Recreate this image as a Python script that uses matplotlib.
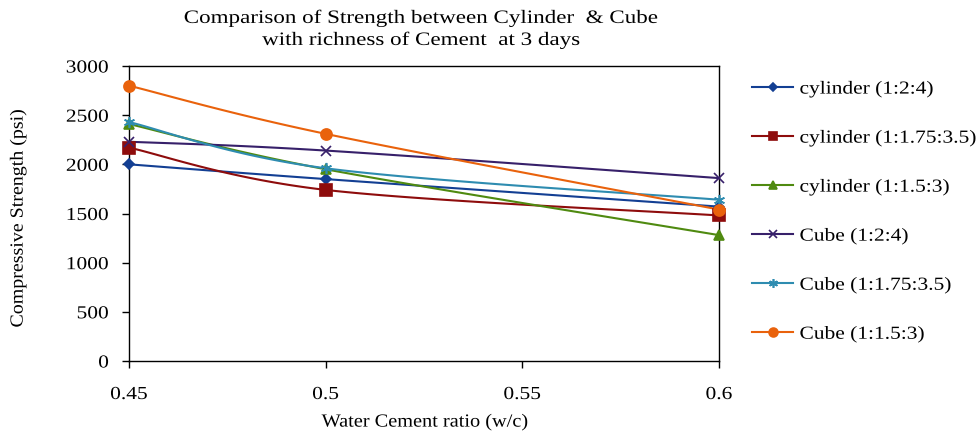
import numpy as np
import matplotlib
matplotlib.use("Agg")
import matplotlib.pyplot as plt
from matplotlib.lines import Line2D
from matplotlib.patheffects import AbstractPathEffect
from matplotlib.transforms import Affine2D

plt.rcParams['font.family'] = ['Liberation Serif', 'DejaVu Serif']

wc_ratio = [0.45, 0.5, 0.6]

series_labels = [
    "cylinder (1:2:4)",
    "cylinder (1:1.75:3.5)",
    "cylinder (1:1.5:3)",
    "Cube (1:2:4)",
    "Cube (1:1.75:3.5)",
    "Cube (1:1.5:3)",
]
cyl_124 = [2000, 1850, 1570]
cyl_1_175_35 = [2170, 1740, 1480]
cyl_1_15_3 = [2410, 1950, 1280]
cube_124 = [2230, 2140, 1860]
cube_1_175_35 = [2430, 1960, 1640]
cube_1_15_3 = [2800, 2310, 1540]
series_values = [cyl_124, cyl_1_175_35, cyl_1_15_3, cube_124, cube_1_175_35, cube_1_15_3]

x_ticks = [0.45, 0.5, 0.55, 0.6]
x_tick_labels = ['0.45', '0.5', '0.55', '0.6']

colors = ['#133F93', '#8E0C0C', '#4F8A10', '#37206A', '#2E8CB0', '#E9620C']
markers = ['D', 's', '^', 'x', (6, 2, 0), 'o']
msizes = [5, 8, 7, 7, 8, 8]


class HStretch(AbstractPathEffect):
    """Draw text glyphs widened horizontally about an anchor."""

    def __init__(self, sx=1.2, anchor='center'):
        super().__init__()
        self.sx = sx
        self.anchor = anchor

    def draw_path(self, renderer, gc, tpath, affine, rgbFace=None):
        ext = tpath.get_extents()
        if self.anchor == 'left':
            cx = ext.x0
        elif self.anchor == 'right':
            cx = ext.x1
        else:
            cx = 0.5 * (ext.x0 + ext.x1)
        t = Affine2D().translate(-cx, 0).scale(self.sx, 1).translate(cx, 0) + affine
        renderer.draw_path(gc, tpath, t, rgbFace)


def smooth(xs, ys, n=60):
    """Catmull-Rom style Bezier smoothing through the points."""
    P = np.column_stack([xs, ys]).astype(float)
    P_ext = np.vstack([P[0], P, P[-1]])
    out = []
    for i in range(len(P) - 1):
        p0, p1, p2, p3 = P_ext[i], P_ext[i + 1], P_ext[i + 2], P_ext[i + 3]
        c1 = p1 + (p2 - p0) / 6.0
        c2 = p2 - (p3 - p1) / 6.0
        t = np.linspace(0, 1, n)[:, None]
        seg = ((1 - t) ** 3) * p1 + 3 * ((1 - t) ** 2) * t * c1 + 3 * (1 - t) * t ** 2 * c2 + t ** 3 * p2
        out.append(seg if i == 0 else seg[1:])
    C = np.vstack(out)
    return C[:, 0], C[:, 1]


FS = 13.2
SX = 1.17

fig = plt.figure(figsize=(9.8, 4.34), dpi=100)
ax = fig.add_axes([129 / 980, 1 - 361 / 434, (719 - 129) / 980, (361 - 66) / 434])

handles = []
for vals, lab, col, mk, ms in zip(series_values, series_labels, colors, markers, msizes):
    sx, sy = smooth(wc_ratio, vals)
    ax.plot(sx, sy, color=col, lw=1.5, clip_on=False, zorder=2)
    ax.plot(wc_ratio, vals, linestyle='none', marker=mk, markersize=ms, color=col,
            markeredgecolor=col, markeredgewidth=1.2, clip_on=False, zorder=3)
    handles.append(Line2D([], [], color=col, lw=1.5, marker=mk, markersize=ms * 0.8,
                          markeredgecolor=col, markeredgewidth=1.2))

ax.set_xlim(0.45, 0.6)
ax.set_ylim(0, 3000)
ax.set_xticks(x_ticks)
ax.set_xticklabels(x_tick_labels)
ax.set_yticks(range(0, 3001, 500))
ax.tick_params(axis='both', direction='out', length=5, width=1, labelsize=FS, colors='black')
ax.tick_params(axis='x', pad=13)
ax.tick_params(axis='y', pad=9.5)
for sp in ax.spines.values():
    sp.set_linewidth(1.0)
    sp.set_color('black')

for t in ax.get_xticklabels():
    t.set_path_effects([HStretch(SX, 'center')])
for t in ax.get_yticklabels():
    t.set_path_effects([HStretch(SX, 'right')])

ax.set_xlabel('Water Cement ratio (w/c)', fontsize=13.3, va='center',
              path_effects=[HStretch(1.1, 'center')])
ax.xaxis.set_label_coords(0.502, (361 - 422) / 295)
ax.set_ylabel('Compressive Strength (psi)', fontsize=13.3, va='center',
              path_effects=[HStretch(1.08, 'center')])
ax.yaxis.set_label_coords((18 - 129) / 590, (361 - 218) / 295)

fig.text(421 / 980, 1 - 18 / 434, 'Comparison of Strength between Cylinder  & Cube',
         ha='center', va='center', fontsize=13.6,
         path_effects=[HStretch(1.22, 'center')])
fig.text(421 / 980, 1 - 40 / 434, 'with richness of Cement  at 3 days',
         ha='center', va='center', fontsize=13.6,
         path_effects=[HStretch(1.22, 'center')])

leg = fig.legend(handles=handles, labels=series_labels, loc='upper left',
                 bbox_to_anchor=(745 / 980, 1 - 73 / 434), frameon=False, fontsize=FS,
                 handlelength=2.2, handletextpad=0.38, labelspacing=1.73, borderaxespad=0)
for t in leg.get_texts():
    t.set_path_effects([HStretch(SX, 'left')])

fig.savefig('out.png', dpi=100)
